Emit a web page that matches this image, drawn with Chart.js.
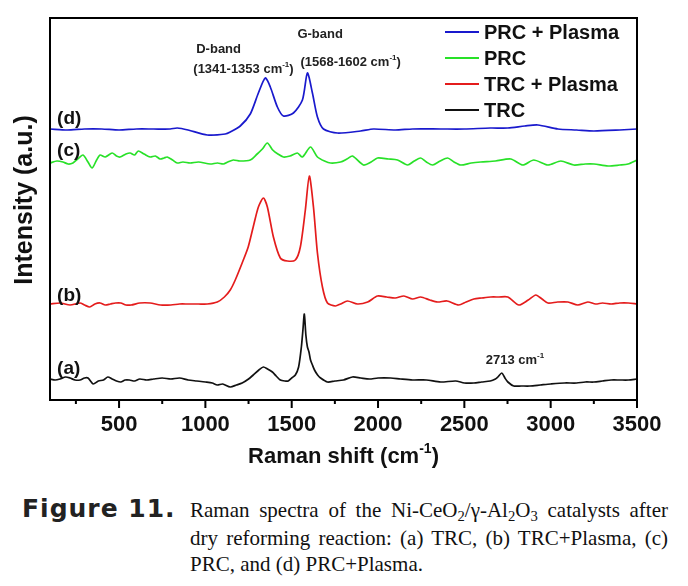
<!DOCTYPE html>
<html>
<head>
<meta charset="utf-8">
<script src="https://cdn.jsdelivr.net/npm/chart.js@4/dist/chart.umd.min.js"></script>
<style>
  body { margin: 0; background: #fff; width: 688px; height: 586px; overflow: hidden; }
  #wrap { position: absolute; left: 0; top: 0; width: 688px; height: 480px; }
  .fig { position: absolute; left: 22px; top: 496px; font-family: "DejaVu Sans", sans-serif; font-weight: bold; font-size: 25px; letter-spacing: 1px; color: #222; line-height: 26px; }
  .cap { position: absolute; left: 190px; top: 497px; width: 478px; font-family: "Liberation Serif", "Times New Roman", serif; font-size: 21px; line-height: 26px; color: #111; }
  .cap div { text-align: justify; text-align-last: justify; white-space: nowrap; }
  .cap div.last { text-align-last: left; }
  sub { font-size: 0.7em; vertical-align: baseline; position: relative; top: 0.25em; }
</style>
</head>
<body>
<div id="wrap"><canvas id="chart" width="688" height="480"></canvas></div>
<div class="fig">Figure 11.</div>
<div class="cap">
  <div>Raman spectra of the Ni-CeO<sub>2</sub>/γ-Al<sub>2</sub>O<sub>3</sub> catalysts after</div>
  <div>dry reforming reaction: (a) TRC, (b) TRC+Plasma, (c)</div>
  <div class="last">PRC, and (d) PRC+Plasma.</div>
</div>
<script>
// Raman shift (cm-1) and stacked intensity (a.u.)
const xTicks = [500, 1000, 1500, 2000, 2500, 3000, 3500];
const xMinorTicks = [250, 750, 1250, 1750, 2250, 2750, 3250];

const seriesNames = ["PRC + Plasma", "PRC", "TRC + Plasma", "TRC"];
const seriesTags = ["(d)", "(c)", "(b)", "(a)"];
const seriesColors = ["rgb(25,25,205)", "rgb(40,225,40)", "rgb(228,28,28)", "#111111"];

const prcPlasmaX = [100, 200, 300, 400, 500, 600, 700, 796, 837, 900, 1011, 1115, 1144, 1202, 1260, 1307, 1347, 1376, 1417, 1452, 1510, 1562, 1591, 1620, 1649, 1684, 1765, 1899, 1974, 2100, 2200, 2363, 2500, 2650, 2752, 2850, 2926, 3042, 3150, 3251, 3400, 3500];
const prcPlasmaY = [271, 270, 271, 271, 270, 271, 271, 271, 272, 270, 265, 266, 268, 274, 286, 307, 322, 313, 293, 284, 287, 300, 327, 307, 283, 271, 267, 269, 271, 270, 271, 271, 271, 272, 272, 274, 275, 271, 270, 269, 270, 271];

const prcX = [100, 140, 175, 205, 233, 260, 291, 320, 344, 370, 390, 420, 460, 485, 506, 540, 564, 590, 611, 645, 680, 710, 738, 760, 779, 810, 837, 870, 912, 960, 1028, 1070, 1104, 1130, 1162, 1200, 1260, 1300, 1330, 1359, 1390, 1420, 1452, 1490, 1533, 1562, 1609, 1649, 1690, 1725, 1783, 1820, 1852, 1916, 1960, 1997, 2060, 2113, 2171, 2210, 2247, 2280, 2316, 2360, 2403, 2440, 2479, 2540, 2595, 2680, 2769, 2839, 2902, 2984, 3059, 3134, 3200, 3251, 3332, 3400, 3448, 3500];
const prcY = [237, 239, 238, 236, 237, 241, 245, 238, 232, 240, 245, 243, 247, 244, 243, 246, 247, 245, 249, 246, 243, 244, 241, 242, 243, 240, 237, 238, 237, 238, 236, 237, 236, 238, 240, 239, 240, 246, 251, 257, 250, 246, 243, 244, 247, 243, 253, 243, 239, 237, 238, 241, 244, 235, 238, 242, 241, 240, 235, 239, 242, 238, 235, 239, 242, 238, 235, 237, 238, 239, 241, 235, 240, 235, 239, 235, 236, 236, 234, 235, 236, 240];

const trcPlasmaX = [100, 160, 216, 274, 300, 330, 360, 390, 420, 450, 480, 510, 540, 570, 620, 680, 740, 800, 850, 900, 960, 1011, 1069, 1110, 1144, 1173, 1213, 1248, 1277, 1307, 1336, 1359, 1394, 1434, 1475, 1521, 1550, 1579, 1602, 1626, 1649, 1678, 1707, 1753, 1783, 1823, 1881, 1940, 1997, 2050, 2100, 2150, 2200, 2247, 2300, 2345, 2400, 2467, 2510, 2555, 2600, 2653, 2700, 2752, 2816, 2870, 2914, 2950, 2984, 3040, 3100, 3157, 3215, 3260, 3300, 3350, 3400, 3450, 3500];
const trcPlasmaY = [96, 97, 95, 97, 95, 93, 96, 97, 95, 96, 97, 97, 95, 95, 97, 97, 95, 95, 96, 96, 96, 96, 98, 103, 110, 120, 137, 153, 173, 193, 202, 193, 163, 142, 139, 140, 153, 190, 224, 193, 147, 113, 97, 94, 96, 99, 96, 98, 104, 103, 102, 104, 101, 103, 100, 98, 99, 95, 98, 101, 102, 103, 103, 103, 95, 100, 105, 101, 97, 98, 98, 95, 98, 96, 97, 96, 97, 97, 96];

const trcX = [100, 130, 158, 190, 216, 245, 274, 300, 320, 350, 380, 410, 435, 460, 485, 510, 535, 560, 590, 620, 660, 700, 750, 800, 850, 900, 950, 1000, 1040, 1069, 1100, 1144, 1180, 1213, 1250, 1277, 1310, 1336, 1360, 1388, 1410, 1434, 1460, 1480, 1500, 1521, 1540, 1556, 1565, 1573, 1582, 1591, 1600, 1609, 1620, 1632, 1650, 1667, 1707, 1750, 1800, 1852, 1900, 1950, 2000, 2073, 2130, 2200, 2280, 2363, 2450, 2500, 2555, 2600, 2650, 2680, 2694, 2717, 2735, 2752, 2786, 2830, 2880, 2940, 3000, 3080, 3150, 3200, 3250, 3300, 3350, 3400, 3450, 3500];
const trcY = [21, 20, 21, 23, 22, 20, 20, 22, 22, 16, 19, 20, 23, 21, 19, 18, 20, 20, 19, 21, 20, 21, 22, 21, 22, 20, 19, 18, 17, 15, 16, 13, 15, 17, 21, 25, 30, 33, 31, 28, 24, 20, 19, 19, 22, 25, 33, 53, 70, 86, 65, 53, 48, 40, 35, 30, 25, 22, 18, 19, 20, 23, 22, 21, 22, 22, 21, 20, 20, 18, 19, 17, 17, 18, 19, 21, 23, 27, 22, 18, 14, 14, 14, 15, 16, 17, 17, 18, 18, 19, 20, 20, 20, 21];

const allX = [prcPlasmaX, prcX, trcPlasmaX, trcX];
const allY = [prcPlasmaY, prcY, trcPlasmaY, trcY];

const SANS = '"Liberation Sans", Arial, sans-serif';
const font = (size) => "bold " + size + "px " + SANS;

// text with superscript pieces, y is the baseline
const drawRich = (ctx, parts, x, y, size, align) => {
  const widths = parts.map(([t, sup]) => {
    ctx.font = font(sup ? Math.round(size * 0.65) : size);
    return ctx.measureText(t).width;
  });
  const total = widths.reduce((a, b) => a + b, 0);
  let cx = align === "center" ? x - total / 2 : x;
  ctx.textAlign = "left";
  ctx.textBaseline = "alphabetic";
  parts.forEach(([t, sup], i) => {
    ctx.font = font(sup ? Math.round(size * 0.65) : size);
    ctx.fillText(t, cx, sup ? y - size * 0.45 : y);
    cx += widths[i];
  });
};

const decor = {
  id: "decor",
  afterDraw: (chart) => {
    const { ctx, chartArea: a, scales } = chart;
    const px = (v) => scales.x.getPixelForValue(v);
    const py = (v) => scales.y.getPixelForValue(v);
    ctx.save();

    // frame
    ctx.strokeStyle = "#000";
    ctx.lineWidth = 2;
    ctx.strokeRect(a.left, a.top, a.right - a.left, a.bottom - a.top);

    // ticks, outward
    ctx.beginPath();
    xTicks.forEach((v) => { ctx.moveTo(px(v), a.bottom); ctx.lineTo(px(v), a.bottom + 8); });
    xMinorTicks.forEach((v) => { ctx.moveTo(px(v), a.bottom); ctx.lineTo(px(v), a.bottom + 4); });
    ctx.stroke();

    // legend
    seriesNames.forEach((name, i) => {
      const y = 32 + i * 26;
      ctx.strokeStyle = seriesColors[i];
      ctx.lineWidth = 2;
      ctx.beginPath();
      ctx.moveTo(445, y);
      ctx.lineTo(479, y);
      ctx.stroke();
      ctx.fillStyle = "#111";
      ctx.font = font(20);
      ctx.textAlign = "left";
      ctx.textBaseline = "middle";
      ctx.fillText(name, 484, y + 1);
    });

    // curve tags
    ctx.fillStyle = "#111";
    ctx.font = font(19);
    ctx.textAlign = "left";
    ctx.textBaseline = "alphabetic";
    [276, 244, 99, 26].forEach((v, i) => ctx.fillText(seriesTags[i], px(141), py(v)));

    // band annotations
    ctx.fillStyle = "#222";
    drawRich(ctx, [["D-band", false]], px(947), py(347), 13, "left");
    drawRich(ctx, [["(1341-1353 cm", false], ["-1", true], [")", false]], px(930), py(327), 13, "left");
    drawRich(ctx, [["G-band", false]], px(1533), py(362), 13, "left");
    drawRich(ctx, [["(1568-1602 cm", false], ["-1", true], [")", false]], px(1551), py(334), 13, "left");
    drawRich(ctx, [["2713 cm", false], ["-1", true]], px(2624), py(36), 13, "left");

    // axis titles
    ctx.fillStyle = "#111";
    drawRich(ctx, [["Raman shift (cm", false], ["-1", true], [")", false]], (a.left + a.right) / 2, 463, 22, "center");
    ctx.translate(25, 200);
    ctx.rotate(-Math.PI / 2);
    ctx.font = font(25);
    ctx.textAlign = "center";
    ctx.textBaseline = "middle";
    ctx.fillText("Intensity (a.u.)", 0, 0);
    ctx.restore();
  },
};

const ctx = document.getElementById("chart");
const chart = new Chart(ctx, {
  type: "line",
  data: {
    datasets: seriesNames.map((name, i) => ({
      label: name,
      data: allX[i].map((x, j) => ({ x: x, y: allY[i][j] })),
      borderColor: seriesColors[i],
      borderWidth: 1.7,
      pointRadius: 0,
      tension: 0.25,
      fill: false,
    })),
  },
  options: {
    responsive: false,
    animation: false,
    layout: { padding: { left: 50, right: 51, top: 18, bottom: 0 } },
    plugins: {
      legend: { display: false },
      tooltip: { enabled: false },
    },
    scales: {
      x: {
        type: "linear",
        min: 100,
        max: 3500,
        grid: { display: false, drawTicks: false },
        border: { display: false },
        afterBuildTicks: (axis) => {
          axis.ticks = xTicks.map((v) => ({ value: v }));
        },
        afterFit: (axis) => {
          axis.height = 80;
        },
        ticks: {
          font: { family: SANS, size: 22, weight: "bold" },
          color: "#111",
          padding: 12,
          maxRotation: 0,
          autoSkip: false,
          callback: (v) => String(v),
        },
      },
      y: {
        display: false,
        min: 0,
        max: 382,
      },
    },
  },
  plugins: [decor],
});
</script>
</body>
</html>
